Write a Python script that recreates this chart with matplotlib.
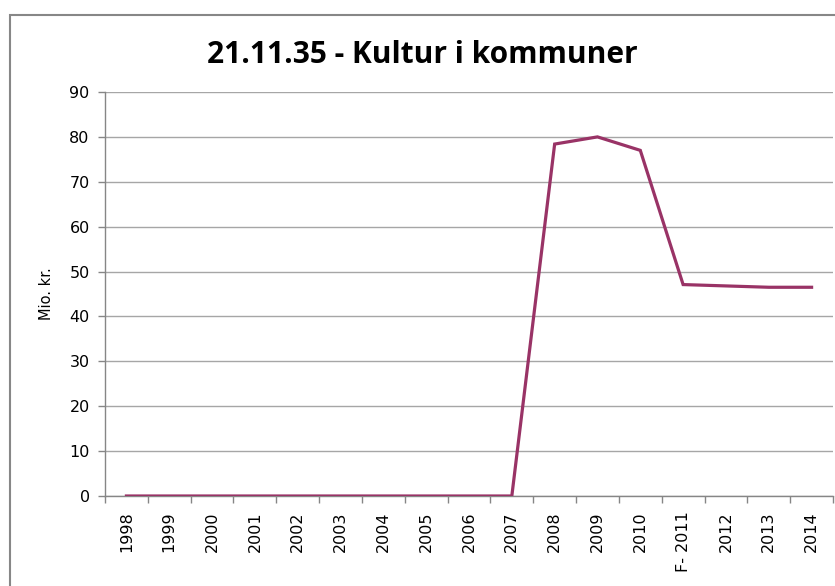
import matplotlib
matplotlib.use("Agg")
import matplotlib.pyplot as plt
from matplotlib.patches import Rectangle
import numpy as np

years = ["1998", "1999", "2000", "2001", "2002", "2003", "2004", "2005", "2006",
         "2007", "2008", "2009", "2010", "F- 2011", "2012", "2013", "2014"]
values = [0, 0, 0, 0, 0, 0, 0, 0, 0, 0, 78.4, 80.0, 77.0, 47.1, 46.8, 46.5, 46.5]
yticks = [0, 10, 20, 30, 40, 50, 60, 70, 80, 90]

plt.rcParams['font.family'] = ['DejaVu Sans']

W, H = 835, 586
fig = plt.figure(figsize=(W / 100, H / 100), dpi=100)
ax = fig.add_axes([105 / W, 1 - 496 / H, (833 - 105) / W, (496 - 92) / H])

x = np.arange(len(years))
ax.plot(x, values, color='#993366', lw=2.3, solid_joinstyle='miter', zorder=3)

ax.set_xlim(-0.5, len(years) - 0.5)
ax.set_ylim(0, 90)
ax.set_yticks(yticks)
ax.set_yticklabels([str(v) for v in yticks], fontsize=11.5)
ax.yaxis.grid(True, color='#a6a6a6', lw=1)
ax.set_axisbelow(True)

ax.set_xticks(x)
ax.set_xticklabels(years, rotation=90, fontsize=11.5, va='top')
ax.set_xticks(np.arange(len(years) + 1) - 0.5, minor=True)
ax.tick_params(axis='x', which='major', length=0, pad=11)
ax.tick_params(axis='x', which='minor', length=5, color='#868686', width=1)
ax.tick_params(axis='y', length=5, color='#868686', width=1, pad=6)

for s in ['top', 'right']:
    ax.spines[s].set_visible(False)
for s in ['left', 'bottom']:
    ax.spines[s].set_color('#868686')
    ax.spines[s].set_linewidth(1)

ax.set_ylabel('Mio. kr.', fontsize=10.5, labelpad=11)

fig.text(422 / W, 1 - 55 / H, '21.11.35 - Kultur i kommuner', ha='center', va='center',
         fontsize=21.5, fontweight='bold', family=['Open Sans', 'DejaVu Sans'])

fig.patches.append(Rectangle((10 / W, -0.1), 1.2, 1 - 15 / H + 0.1, transform=fig.transFigure,
                             fill=False, edgecolor='#878787', lw=1.5))

fig.savefig('out.png', dpi=100)
